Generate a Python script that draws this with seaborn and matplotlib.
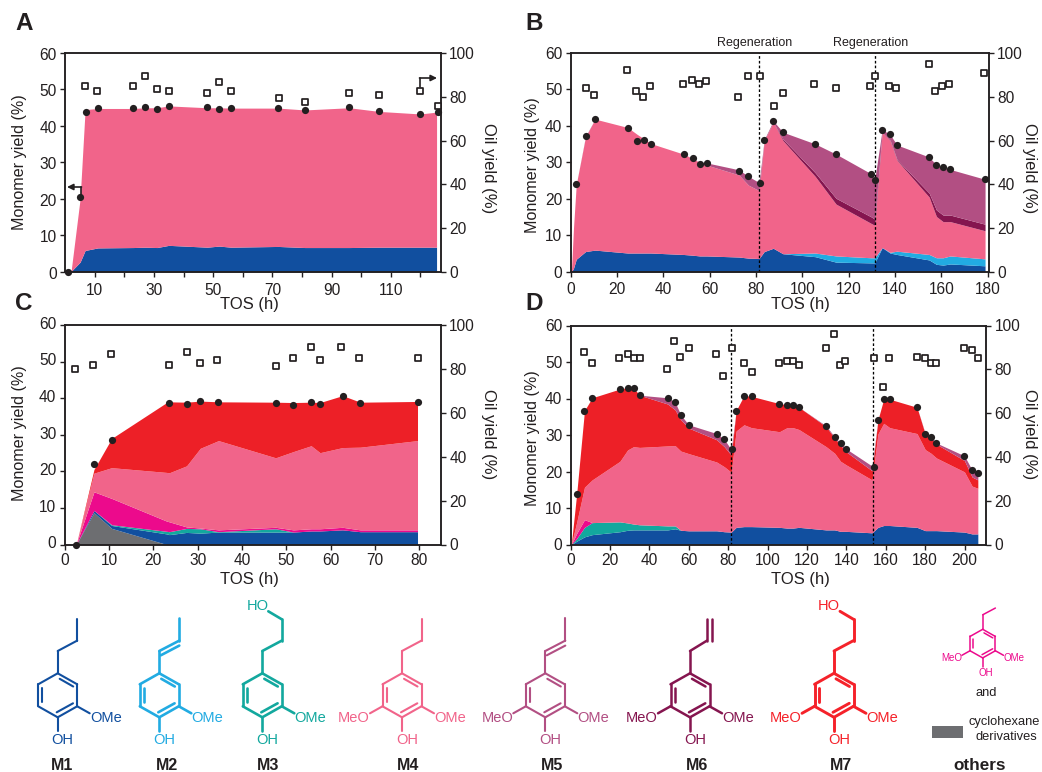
import seaborn as sns
import matplotlib.pyplot as plt
from matplotlib.patches import Rectangle
from matplotlib.transforms import ScaledTranslation

W, H = 1042, 772
dark = "#231f20"

# colores de cada monomero
c_m1 = "#114f9f"
c_m2 = "#22abe2"
c_m3 = "#13a89e"
c_m4 = "#f1648a"
c_m5 = "#b24f83"
c_m6 = "#85154f"
c_m7 = "#ed2027"
c_mag = "#ec0a8c"
c_gris = "#6d6e71"

# Panel A
a_x = [1, 2, 5, 6.7, 11, 23, 27, 31, 35, 48, 52, 56, 72, 81, 96, 106, 120, 125.5]
a_m1 = [0, 0.2, 2.7, 5.9, 6.6, 6.7, 6.8, 6.7, 7.3, 6.8, 7.1, 6.8, 7.0, 6.7, 6.7, 6.8, 6.8, 6.8]
a_m4 = [0, 0.5, 20, 44.5, 44.8, 44.8, 45.0, 45.0, 45.5, 45.0, 45.0, 44.9, 44.9, 44.4, 45.0, 44.0, 43.3, 43.8]
a_dot_x = [1, 5, 7, 11, 23, 27, 31, 35, 48, 52, 56, 72, 81, 96, 106, 120, 126]
a_dot_y = [0, 20.6, 43.8, 44.8, 44.8, 45.2, 44.6, 45.5, 45.1, 44.7, 44.9, 44.9, 44.4, 45.1, 44.1, 43.4, 43.9]
a_sq_x = [6.7, 10.8, 22.8, 26.9, 30.9, 34.9, 48, 51.9, 55.9, 72.1, 81, 96, 106, 120, 126]
a_sq_y = [84.8, 82.7, 84.8, 89.7, 83.7, 82.7, 81.6, 86.8, 82.7, 79.6, 77.7, 81.6, 80.7, 82.7, 75.7]

# Panel B
b_x = [0.3, 1.2, 2.4, 6.4, 10.5, 24.6, 28.7, 31.6, 34.6, 48.7, 52.7, 55.7, 58.7, 72.6, 76.7, 81.3,
       83.5, 87.4, 91.6, 105.5, 114.5, 129.7, 131.2, 134.4, 137.8, 140.8, 154.7, 157.8, 160.7, 163.8, 178.8]
b_m1 = [0, 1, 3.5, 5.6, 6.0, 5.2, 5.2, 5.2, 5.2, 4.8, 4.6, 4.4, 4.4, 4.1, 3.8, 3.7,
        5.6, 6.5, 5.0, 4.2, 2.7, 2.5, 2.5, 6.7, 5.2, 4.8, 3.3, 2.1, 1.9, 2.2, 1.7]
b_m2 = [0, 1, 3.5, 5.6, 6.0, 5.2, 5.2, 5.2, 5.2, 4.8, 4.6, 4.4, 4.4, 4.1, 3.8, 3.7,
        5.6, 6.5, 5.0, 5.2, 4.4, 3.9, 3.9, 6.7, 5.4, 5.7, 4.8, 3.9, 3.9, 4.4, 3.6]
b_m4 = [0, 12, 24, 37, 41.9, 39.6, 37.7, 36.5, 35.2, 32.3, 31, 30, 29.3, 26.6, 23.8, 22.3,
        36, 41, 36, 26.2, 18.6, 13.3, 12.8, 38.3, 36, 30.6, 20.5, 15.2, 13.8, 13.8, 11.3]
b_m6 = [0, 12, 24, 37, 41.9, 39.6, 37.7, 36.5, 35.2, 32.3, 31, 30, 29.3, 26.6, 23.8, 22.3,
        36, 41, 36.4, 27.2, 20.2, 15.1, 14.5, 38.4, 36.2, 30.8, 21.6, 17, 15.6, 15.6, 13.1]
b_m5 = [0, 12, 24, 37.2, 41.9, 39.6, 37.7, 36.5, 35.2, 32.3, 31.1, 30, 29.9, 28, 26.2, 24.5,
        36.3, 41.4, 38.3, 35.1, 32.3, 26.9, 25.3, 39, 37.7, 34.8, 31.5, 29.3, 28.7, 28.1, 25.4]
b_dot_x = [2.4, 6.4, 10.5, 24.6, 28.7, 31.6, 34.6, 48.7, 52.7, 55.7, 58.7, 72.6, 76.7, 81.7, 83.5,
           87.4, 91.6, 105.5, 114.5, 129.7, 131.5, 134.4, 137.8, 140.8, 154.7, 157.8, 160.7, 163.8, 178.8]
b_dot_y = [24.1, 37.2, 41.9, 39.5, 36, 36.3, 35, 32.3, 31.1, 29.7, 29.9, 27.8, 26.2, 24.3, 36.3,
           41.4, 38.3, 35.1, 32.3, 26.9, 25.3, 39, 37.7, 34.8, 31.5, 29.3, 28.7, 28.1, 25.4]
b_sq_x = [6.4, 10.2, 24.3, 28.3, 31.2, 34.1, 48.4, 52.3, 55.3, 58.2, 72.3, 76.4, 81.7, 87.6, 91.6,
          105.2, 114.5, 129.3, 131.5, 137.4, 140.3, 154.4, 157.3, 160.3, 163.4, 178.5]
b_sq_y = [83.9, 80.9, 92.1, 82.7, 79.9, 85.1, 85.9, 87.8, 85.9, 87.1, 79.9, 89.7, 89.7, 76, 81.9,
          85.9, 83.9, 85.1, 89.7, 85.1, 83.9, 94.8, 82.7, 85.1, 85.9, 90.9]
b_regen = [81.3, 131.2]

# Panel C
c_x = [2.6, 6.6, 10.6, 23, 23.6, 27.5, 30.6, 34.7, 47.6, 51.6, 55.6, 57.6, 62.7, 66.7, 79.6]
c_otros2 = [0, 8.7, 4.4, 0, 0, 0, 0, 0, 0, 0, 0, 0, 0, 0, 0]
c_m1s = [0, 9.3, 5.2, 2.9, 2.7, 3.3, 3.1, 3.4, 3.4, 3.4, 3.7, 3.7, 4, 3.5, 3.5]
c_m3s = [0, 9.3, 5.4, 3.6, 3.5, 4.4, 4.3, 3.5, 4.3, 3.4, 3.7, 3.7, 4, 3.5, 3.5]
c_otros1 = [0, 14.4, 12.6, 6.4, 6.2, 4.8, 4.5, 4, 4.7, 4, 4.3, 4.3, 4.7, 4, 4]
c_m4s = [0, 19.5, 21, 19.7, 19.6, 21.5, 26.3, 28.4, 23.7, 25.4, 27, 25.1, 26.5, 26.6, 28.4]
c_m7s = [0, 20.5, 29, 38.8, 39, 38.9, 39.2, 39, 38.9, 38.8, 38.9, 38.8, 40.7, 38.9, 39.1]
c_dot_x = [2.6, 6.6, 10.6, 23.6, 27.5, 30.6, 34.7, 47.6, 51.6, 55.6, 57.6, 62.7, 66.7, 79.6]
c_dot_y = [0, 21.9, 28.7, 38.6, 38.4, 39.2, 38.9, 38.6, 38.1, 38.9, 38.4, 40.5, 38.6, 38.9]
c_sq_x = [2.4, 6.4, 10.4, 23.6, 27.5, 30.5, 34.4, 47.6, 51.6, 55.6, 57.6, 62.4, 66.4, 79.6]
c_sq_y = [80.1, 82, 86.9, 82, 87.8, 82.8, 84.2, 81.1, 85.1, 90, 84.2, 90, 85.1, 85.1]

# Panel D
d_x = [0.3, 3, 7, 10.9, 25, 28.9, 31.9, 35, 49.2, 53, 55.9, 59.9, 74.1, 78, 81.5, 84, 88, 91.8, 106,
       109.8, 112.9, 115.9, 129.7, 134, 137, 139.9, 153, 156, 158.9, 162, 175.8, 180, 182.9, 185.7,
       199.9, 203.8, 206.7]
d_m1 = [0, 0.9, 2.1, 2.7, 3.5, 3.9, 4, 4, 4, 4.3, 3.9, 3.75, 3.75, 3.5, 3.4, 4.7, 4.9, 4.9, 4.7,
        4.5, 4.5, 4.7, 4, 4, 3.6, 3.6, 3.2, 4.7, 5.2, 5.2, 4.7, 3.8, 3.8, 3.8, 3.4, 2.9, 2.9]
d_m3 = [0, 1.6, 4.7, 6, 6.2, 5.9, 5.6, 5.4, 5.1, 5.1, 3.9, 3.75, 3.75, 3.5, 3.4, 4.7, 4.9, 4.9, 4.7,
        4.5, 4.5, 4.7, 4, 4, 3.6, 3.6, 3.2, 4.7, 5.2, 5.2, 4.7, 3.8, 3.8, 3.8, 3.4, 2.9, 2.9]
d_otros = [0, 3, 6.8, 6, 6.2, 5.9, 5.6, 5.4, 5.1, 5.1, 3.9, 3.75, 3.75, 3.5, 3.4, 4.7, 4.9, 4.9, 4.7,
           4.5, 4.5, 4.7, 4, 4, 3.6, 3.6, 3.2, 4.7, 5.2, 5.2, 4.7, 3.8, 3.8, 3.8, 3.4, 2.9, 2.9]
d_m4 = [0, 6, 15.7, 17.7, 22.8, 25.9, 26.8, 26.6, 27, 27.1, 25.6, 24.9, 22.6, 21.3, 19.8, 31.1, 32.8, 32, 30.9,
        32, 32, 31.5, 26.8, 25, 22.8, 21.8, 17.7, 30.3, 33.2, 32, 30.4, 26, 25, 23.7, 19.9, 16, 15.4]
d_m7 = [0, 13.7, 36.7, 40.2, 42.6, 43, 42.9, 40.9, 38.5, 36.9, 34.2, 31.9, 28.7, 26.8, 24.5, 36.7, 40.8, 40.6, 38.6,
        38.3, 38.3, 37.6, 32.3, 29.1, 27.2, 25.4, 20.2, 34.2, 39.8, 39.8, 37.6, 30.2, 29.1, 27.5, 23, 18.5, 17.7]
d_m5 = [0, 13.7, 36.7, 40.2, 42.6, 43, 42.9, 40.9, 40.2, 39, 35.5, 32.8, 30.4, 28.8, 26, 36.7, 40.8, 40.6, 38.6,
        38.3, 38.3, 37.6, 32.5, 29.5, 27.8, 26.2, 21.5, 34.2, 39.8, 39.8, 37.6, 30.4, 29.5, 27.8, 24.3, 20.4, 19.7]
d_dot_x = [3, 7, 10.9, 25, 28.9, 31.9, 35, 49.2, 53, 55.9, 59.9, 74.1, 78, 81.8, 84, 88, 91.8, 106, 109.8, 112.9,
           115.9, 129.7, 134, 137, 139.9, 153.9, 156, 158.9, 162, 175.8, 180, 182.9, 185.7, 199.9, 203.8, 206.7]
d_dot_y = [13.7, 36.7, 40.2, 42.6, 42.9, 42.9, 40.9, 40.2, 39.1, 35.5, 32.8, 30.4, 28.8, 26.3, 36.7, 40.8, 40.6,
           38.6, 38.3, 38.3, 37.6, 32.5, 29.5, 27.8, 26.2, 21.3, 34.2, 39.8, 39.8, 37.6, 30.4, 29.5, 27.8, 24.3,
           20.4, 19.7]
d_sq_x = [7, 10.9, 24.3, 28.9, 31.9, 35, 48.7, 52.6, 55.6, 59.9, 73.8, 77.5, 81.8, 88, 91.8, 105.6, 110, 112.9,
          115.9, 129.7, 133.7, 136.6, 139.5, 153.8, 158.6, 161.5, 175.8, 179.8, 182.7, 185.6, 199.5, 203.8, 206.7]
d_sq_y = [87.8, 82.7, 85, 87, 85, 85, 80, 92.8, 85.8, 89.8, 87, 76.9, 89.8, 82.7, 78.9, 82.7, 83.8, 83.8,
          82, 89.8, 95.9, 82, 83.8, 85, 71.8, 85, 85.8, 85, 82.7, 82.7, 89.8, 89, 85]
d_regen = [81.3, 153.4]

y_left = [0, 10, 20, 30, 40, 50, 60]
y_right = [0, 20, 40, 60, 80, 100]

sns.set_style("ticks")
plt.rcParams["font.family"] = ["Liberation Sans", "DejaVu Sans"]
plt.rcParams["text.color"] = dark
plt.rcParams["axes.labelcolor"] = dark
plt.rcParams["xtick.color"] = dark
plt.rcParams["ytick.color"] = dark

fig = plt.figure(figsize=(W / 100, H / 100), dpi=100)

# capa en pixeles para textos y estructuras
bg = fig.add_axes([0, 0, 1, 1])
bg.set_xlim(0, W)
bg.set_ylim(H, 0)
bg.axis("off")


def panel(caja, xmax, xticks, xlabels, letra, et, x, capas, dots, sqs, regen=(), shift=0, xpad=2.5):
    l, t, r, b = caja
    ancho, alto = r - l, b - t
    ax = fig.add_axes([l / W, 1 - b / H, ancho / W, alto / H])
    # areas apiladas
    abajo = [0] * len(x)
    for arriba, color in capas:
        ax.fill_between(x, abajo, arriba, color=color, linewidth=0)
        abajo = arriba
    for v in regen:
        ax.axvline(v, color="black", lw=0.95, ls=(0, (2, 1.6)), zorder=3)
    sns.scatterplot(x=dots[0], y=dots[1], ax=ax, color=dark, s=27, linewidth=0,
                    clip_on=False, zorder=5)
    ax.set_xlim(0, xmax)
    ax.set_ylim(0, 60)
    ax.set_xticks(xticks)
    ax.set_xticklabels(xlabels)
    ax.set_yticks(y_left)

    # posiciones de las etiquetas en pixeles
    tos_x, tos_y, izq_x, izq_y, der_x, der_y = et
    ax.set_xlabel("TOS (h)", fontsize=12, va="center")
    ax.xaxis.set_label_coords((tos_x - l) / ancho, (b - tos_y) / alto)
    ax.set_ylabel("Monomer yield (%)", fontsize=11.6, va="center")
    ax.yaxis.set_label_coords((izq_x - l) / ancho, (b - izq_y) / alto)

    ax2 = ax.twinx()
    sns.scatterplot(x=sqs[0], y=sqs[1], ax=ax2, color="white", edgecolor=dark, marker="s",
                    s=21, linewidth=1.25, clip_on=False, zorder=6)
    ax2.set_ylim(0, 100)
    ax2.set_yticks(y_right)
    ax2.set_ylabel("Oil yield (%)", fontsize=12, rotation=270, va="center", ha="center")
    ax2.yaxis.set_label_coords((der_x - l) / ancho, (b - der_y) / alto)

    for a in (ax, ax2):
        a.tick_params(labelsize=11.2, length=3.5, width=1, pad=2.5)
        for s in a.spines.values():
            s.set_visible(True)
            s.set_linewidth(1.1)
            s.set_color(dark)
    ax.tick_params(axis="x", pad=xpad)
    if shift:
        off = ScaledTranslation(0, shift / 72, fig.dpi_scale_trans)
        for lab in ax.get_yticklabels():
            lab.set_transform(lab.get_transform() + off)
    bg.text(letra[1], letra[2], letra[0], fontsize=17.5, fontweight="bold", ha="center", va="center")
    return ax


ticks_a = list(range(10, 121, 10))
labels_a = [str(v) if v % 20 == 10 else "" for v in ticks_a]
panel((65.3, 53, 441, 272), 127, ticks_a, labels_a, ("A", 24, 24),
      (249, 305, 19.5, 162, 488.5, 168),
      a_x, [(a_m1, c_m1), (a_m4, c_m4)], (a_dot_x, a_dot_y), (a_sq_x, a_sq_y), shift=-0.7, xpad=4.5)

ticks_b = list(range(0, 181, 20))
panel((570.7, 53, 989, 272), 180.5, ticks_b, [str(v) for v in ticks_b], ("B", 534, 24),
      (800, 305, 533, 165, 1030, 168),
      b_x, [(b_m1, c_m1), (b_m2, c_m2), (b_m4, c_m4), (b_m6, c_m6), (b_m5, c_m5)],
      (b_dot_x, b_dot_y), (b_sq_x, b_sq_y), b_regen, xpad=3.5)

ticks_c = list(range(0, 81, 10))
panel((64.7, 325, 441, 544.5), 84.9, ticks_c, [str(v) for v in ticks_c], ("C", 24, 304),
      (249, 579.3, 19.5, 433, 488.5, 434),
      c_x, [(c_otros2, c_gris), (c_m1s, c_m1), (c_m3s, c_m3), (c_otros1, c_mag), (c_m4s, c_m4), (c_m7s, c_m7)],
      (c_dot_x, c_dot_y), (c_sq_x, c_sq_y), shift=1.5)

ticks_d = list(range(0, 201, 20))
panel((570.7, 325.5, 986.3, 544.5), 211, ticks_d, [str(v) for v in ticks_d], ("D", 534, 304),
      (800, 579.3, 533, 438, 1030, 434),
      d_x, [(d_m1, c_m1), (d_m3, c_m3), (d_otros, c_mag), (d_m4, c_m4), (d_m7, c_m7), (d_m5, c_m5)],
      (d_dot_x, d_dot_y), (d_sq_x, d_sq_y), d_regen)

# textos de regeneracion
bg.text(755, 43, "Regeneration", fontsize=9, ha="center", va="center")
bg.text(870.5, 43, "Regeneration", fontsize=9, ha="center", va="center")

# flechas del panel A, encima de todo
top = fig.add_axes([0, 0, 1, 1], facecolor="none")
top.set_xlim(0, W)
top.set_ylim(H, 0)
top.axis("off")
top.plot([81, 81], [196, 187], color=dark, lw=1.2)
top.annotate("", xy=(67, 187), xytext=(81.5, 187),
             arrowprops=dict(arrowstyle="-|>", color=dark, lw=1.2, shrinkA=0, shrinkB=0, mutation_scale=9))
top.plot([420, 420], [87, 78], color=dark, lw=1.2)
top.annotate("", xy=(437, 78), xytext=(419.5, 78),
             arrowprops=dict(arrowstyle="-|>", color=dark, lw=1.2, shrinkA=0, shrinkB=0, mutation_scale=9))


def molecula(x0, y0, color, cadena, syringyl=True, lw=1.5, k=1.0, fs=10.5):
    def linea(p, q, ancho=lw):
        bg.plot([x0 + p[0] * k, x0 + q[0] * k], [y0 + p[1] * k, y0 + q[1] * k],
                color=color, lw=ancho, solid_capstyle="round")

    def texto(x, y, s):
        bg.text(x0 + x * k, y0 + y * k, s, color=color, fontsize=fs, ha="center", va="center")

    anillo = [(0, 0), (19.5, 11), (19.5, 33), (0, 44), (-19.5, 33), (-19.5, 11), (0, 0)]
    for p, q in zip(anillo[:-1], anillo[1:]):
        linea(p, q)
    linea((-15.3, 15), (-15.3, 29))
    linea((2, 5.5), (15.5, 13.2))
    linea((-1, 39), (15.3, 30))

    linea((0, 0), (0, -22.3))
    if cadena == "propilo":
        linea((0, -22.3), (19.5, -32.7))
        linea((19.5, -32.7), (19.5, -54))
    elif cadena == "propenilo":
        linea((0, -22.3), (20, -32.7))
        linea((1.5, -18), (20, -27.7))
        linea((20, -32.7), (20, -55))
    elif cadena == "propanol":
        linea((0, -22.3), (19.5, -32.7))
        linea((19.5, -32.7), (19.5, -54))
        linea((19.5, -54), (6, -62))
        texto(-5, -67, "HO")
    elif cadena == "alilo":
        linea((0, -22.3), (17, -32.7))
        linea((17, -32.7), (17, -54))
        linea((21.5, -32.7), (21.5, -54))
    elif cadena == "etilo":
        linea((0, -22.3), (19.5, -32.7))

    linea((19.5, 33), (32, 40))
    texto(48.3, 44.3, "OMe")
    linea((0, 44), (0, 58))
    texto(5, 66.7, "OH")
    if syringyl:
        linea((-19.5, 33), (-32, 40))
        texto(-48, 44.3, "MeO")


molecula(57.7, 673.3, c_m1, "propilo", syringyl=False)
molecula(159.3, 673.3, c_m2, "propenilo", syringyl=False, lw=1.9)
molecula(262.3, 673.3, c_m3, "propanol", syringyl=False, lw=1.9)
molecula(402, 673.3, c_m4, "propilo")
molecula(545.3, 673.3, c_m5, "propenilo")
molecula(690, 673.3, c_m6, "alilo", lw=1.8)
molecula(834, 673.3, "#f5222a", "propanol", lw=2.1)
molecula(982.7, 629.3, c_mag, "etilo", lw=1.1, k=0.65, fs=7)

for nombre, xm in [("M1", 61.7), ("M2", 166.7), ("M3", 267.7), ("M4", 407.7), ("M5", 551.7),
                   ("M6", 697), ("M7", 841)]:
    bg.text(xm, 766, nombre, fontsize=11.5, fontweight="bold", ha="center", va="center")
bg.text(980, 766, "others", fontsize=12.3, fontweight="bold", ha="center", va="center")

bg.text(986, 693, "and", fontsize=9.3, ha="center", va="center")
bg.add_patch(Rectangle((931.7, 725.7), 31.6, 12.6, color=c_gris, lw=0))
bg.text(1004.5, 721.5, "cyclohexane", fontsize=9.3, ha="center", va="center")
bg.text(1006, 737, "derivatives", fontsize=9.3, ha="center", va="center")

plt.savefig("out.png", dpi=100)
